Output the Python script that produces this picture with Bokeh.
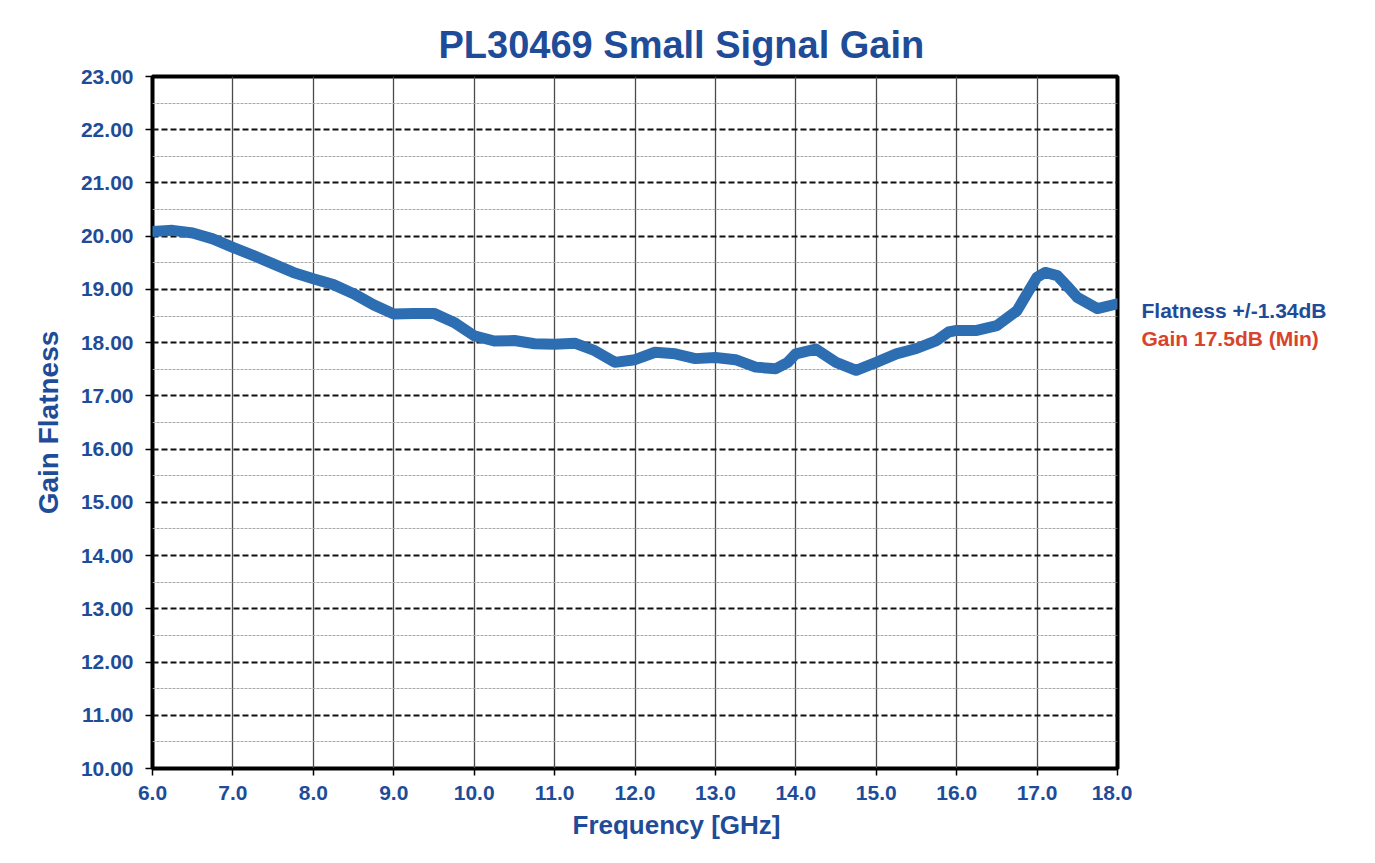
from bokeh.plotting import figure
from bokeh.layouts import row
from bokeh.models import Range1d, FixedTicker, NumeralTickFormatter, Title
from bokeh.core.properties import value
from bokeh.embed import file_html
from bokeh.resources import INLINE

# ---- data ----
freq_ghz = [6.0, 6.25, 6.5, 6.75, 7.0, 7.25, 7.5, 7.75, 8.0, 8.25, 8.5, 8.75,
            9.0, 9.25, 9.5, 9.75, 10.0, 10.25, 10.5, 10.75, 11.0, 11.25, 11.5,
            11.75, 12.0, 12.25, 12.5, 12.75, 13.0, 13.25, 13.5, 13.75, 13.9,
            14.0, 14.25, 14.5, 14.75, 15.0, 15.25, 15.5, 15.75, 15.9, 16.0,
            16.25, 16.5, 16.75, 16.875, 17.0, 17.1, 17.25, 17.4, 17.5, 17.75, 18.0]
gain_db = [20.09, 20.11, 20.06, 19.95, 19.79, 19.64, 19.48, 19.32, 19.20, 19.09,
           18.92, 18.71, 18.54, 18.55, 18.55, 18.38, 18.13, 18.03, 18.04, 17.98,
           17.97, 17.99, 17.85, 17.63, 17.68, 17.82, 17.79, 17.70, 17.72, 17.68,
           17.54, 17.51, 17.63, 17.79, 17.88, 17.63, 17.48, 17.63, 17.79, 17.89,
           18.04, 18.20, 18.23, 18.23, 18.32, 18.60, 18.92, 19.23, 19.32, 19.26,
           19.02, 18.85, 18.64, 18.73]

x_ticks = [6, 7, 8, 9, 10, 11, 12, 13, 14, 15, 16, 17, 18]
y_ticks = [10, 11, 12, 13, 14, 15, 16, 17, 18, 19, 20, 21, 22, 23]
y_minor = [10.5, 11.5, 12.5, 13.5, 14.5, 15.5, 16.5, 17.5, 18.5, 19.5, 20.5, 21.5, 22.5]

title_text = "PL30469 Small Signal Gain"
x_label = "Frequency [GHz]"
y_label = "Gain Flatness"
notes = ["Flatness +/-1.34dB", "Gain 17.5dB (Min)"]
note_y = [18.60, 18.07]
note_colors = ["#1f4c98", "#d8432c"]

FONT = "Liberation Sans"
BLUE_TXT = "#1f4c98"
LINE_BLUE = "#2d6db1"

W_TOTAL, H_TOTAL = 1359, 847
W_MAIN = 1132
B_TOP, B_BOTTOM = 76, 79

yr = Range1d(10, 23)
p = figure(width=W_MAIN, height=H_TOTAL, output_backend="svg", toolbar_location=None,
           x_range=Range1d(6, 18), y_range=yr,
           min_border_left=152, min_border_right=W_MAIN - 1117,
           min_border_top=B_TOP, min_border_bottom=B_BOTTOM)
p.background_fill_color = "white"
p.border_fill_color = "white"
p.outline_line_color = "black"
p.outline_line_width = 4

# axes
p.xaxis.ticker = FixedTicker(ticks=x_ticks)
p.yaxis.ticker = FixedTicker(ticks=y_ticks, minor_ticks=y_minor)
p.xaxis.formatter = NumeralTickFormatter(format="0.0")
p.yaxis.formatter = NumeralTickFormatter(format="0.00")
for ax in (p.xaxis[0], p.yaxis[0]):
    ax.axis_line_color = None
    ax.major_tick_line_color = "black"
    ax.major_tick_line_width = 1.5
    ax.major_tick_out = 7
    ax.major_tick_in = 0
    ax.minor_tick_line_color = None
    ax.major_label_text_font = FONT
    ax.major_label_text_font_style = "bold"
    ax.major_label_text_font_size = "21px"
    ax.major_label_text_color = BLUE_TXT
p.xaxis.major_label_standoff = 10
p.yaxis.major_label_standoff = 12
p.yaxis.axis_label = y_label
p.yaxis.axis_label_text_font = FONT
p.yaxis.axis_label_text_font_style = "bold"
p.yaxis.axis_label_text_font_size = "28px"
p.yaxis.axis_label_text_color = BLUE_TXT
p.yaxis.axis_label_standoff = 14

# titles (top and bottom)
t = Title(text=title_text, align="left", offset=438 - 152, standoff=21,
          text_font=FONT, text_font_style="bold", text_font_size="38px",
          text_color=BLUE_TXT)
p.add_layout(t, "above")
tb = Title(text=x_label, align="left", offset=572 - 152, standoff=10,
           text_font=FONT, text_font_style="bold", text_font_size="26px",
           text_color=BLUE_TXT)
p.add_layout(tb, "below")

# grids
p.xgrid.grid_line_color = "#4a4a4a"
p.xgrid.grid_line_width = 1.3
p.ygrid.grid_line_color = "#111111"
p.ygrid.grid_line_width = 2
p.ygrid.grid_line_dash = "6 3"
p.ygrid.minor_grid_line_color = "#a8a8a8"
p.ygrid.minor_grid_line_width = 1
p.ygrid.minor_grid_line_dash = "3 1"

# data line
p.line(freq_ghz, gain_db, line_width=11, line_color=LINE_BLUE,
       line_join="round", line_cap="round")

# right-hand note panel sharing the y scale
W_SIDE = W_TOTAL - W_MAIN
p2 = figure(width=W_SIDE, height=H_TOTAL, output_backend="svg", toolbar_location=None,
            x_range=Range1d(0, W_SIDE), y_range=yr,
            min_border_left=0, min_border_right=0,
            min_border_top=B_TOP, min_border_bottom=B_BOTTOM)
p2.axis.visible = False
p2.grid.visible = False
p2.outline_line_color = None
p2.background_fill_color = "white"
p2.border_fill_color = "white"
p2.text(x=[1141 - W_MAIN] * len(notes), y=note_y, text=notes,
        text_color=note_colors, text_font=value(FONT), text_font_style="bold",
        text_font_size="21px", text_align="left", text_baseline="middle")

layout = row(p, p2)
open("out.html", "w").write(file_html(layout, INLINE))
